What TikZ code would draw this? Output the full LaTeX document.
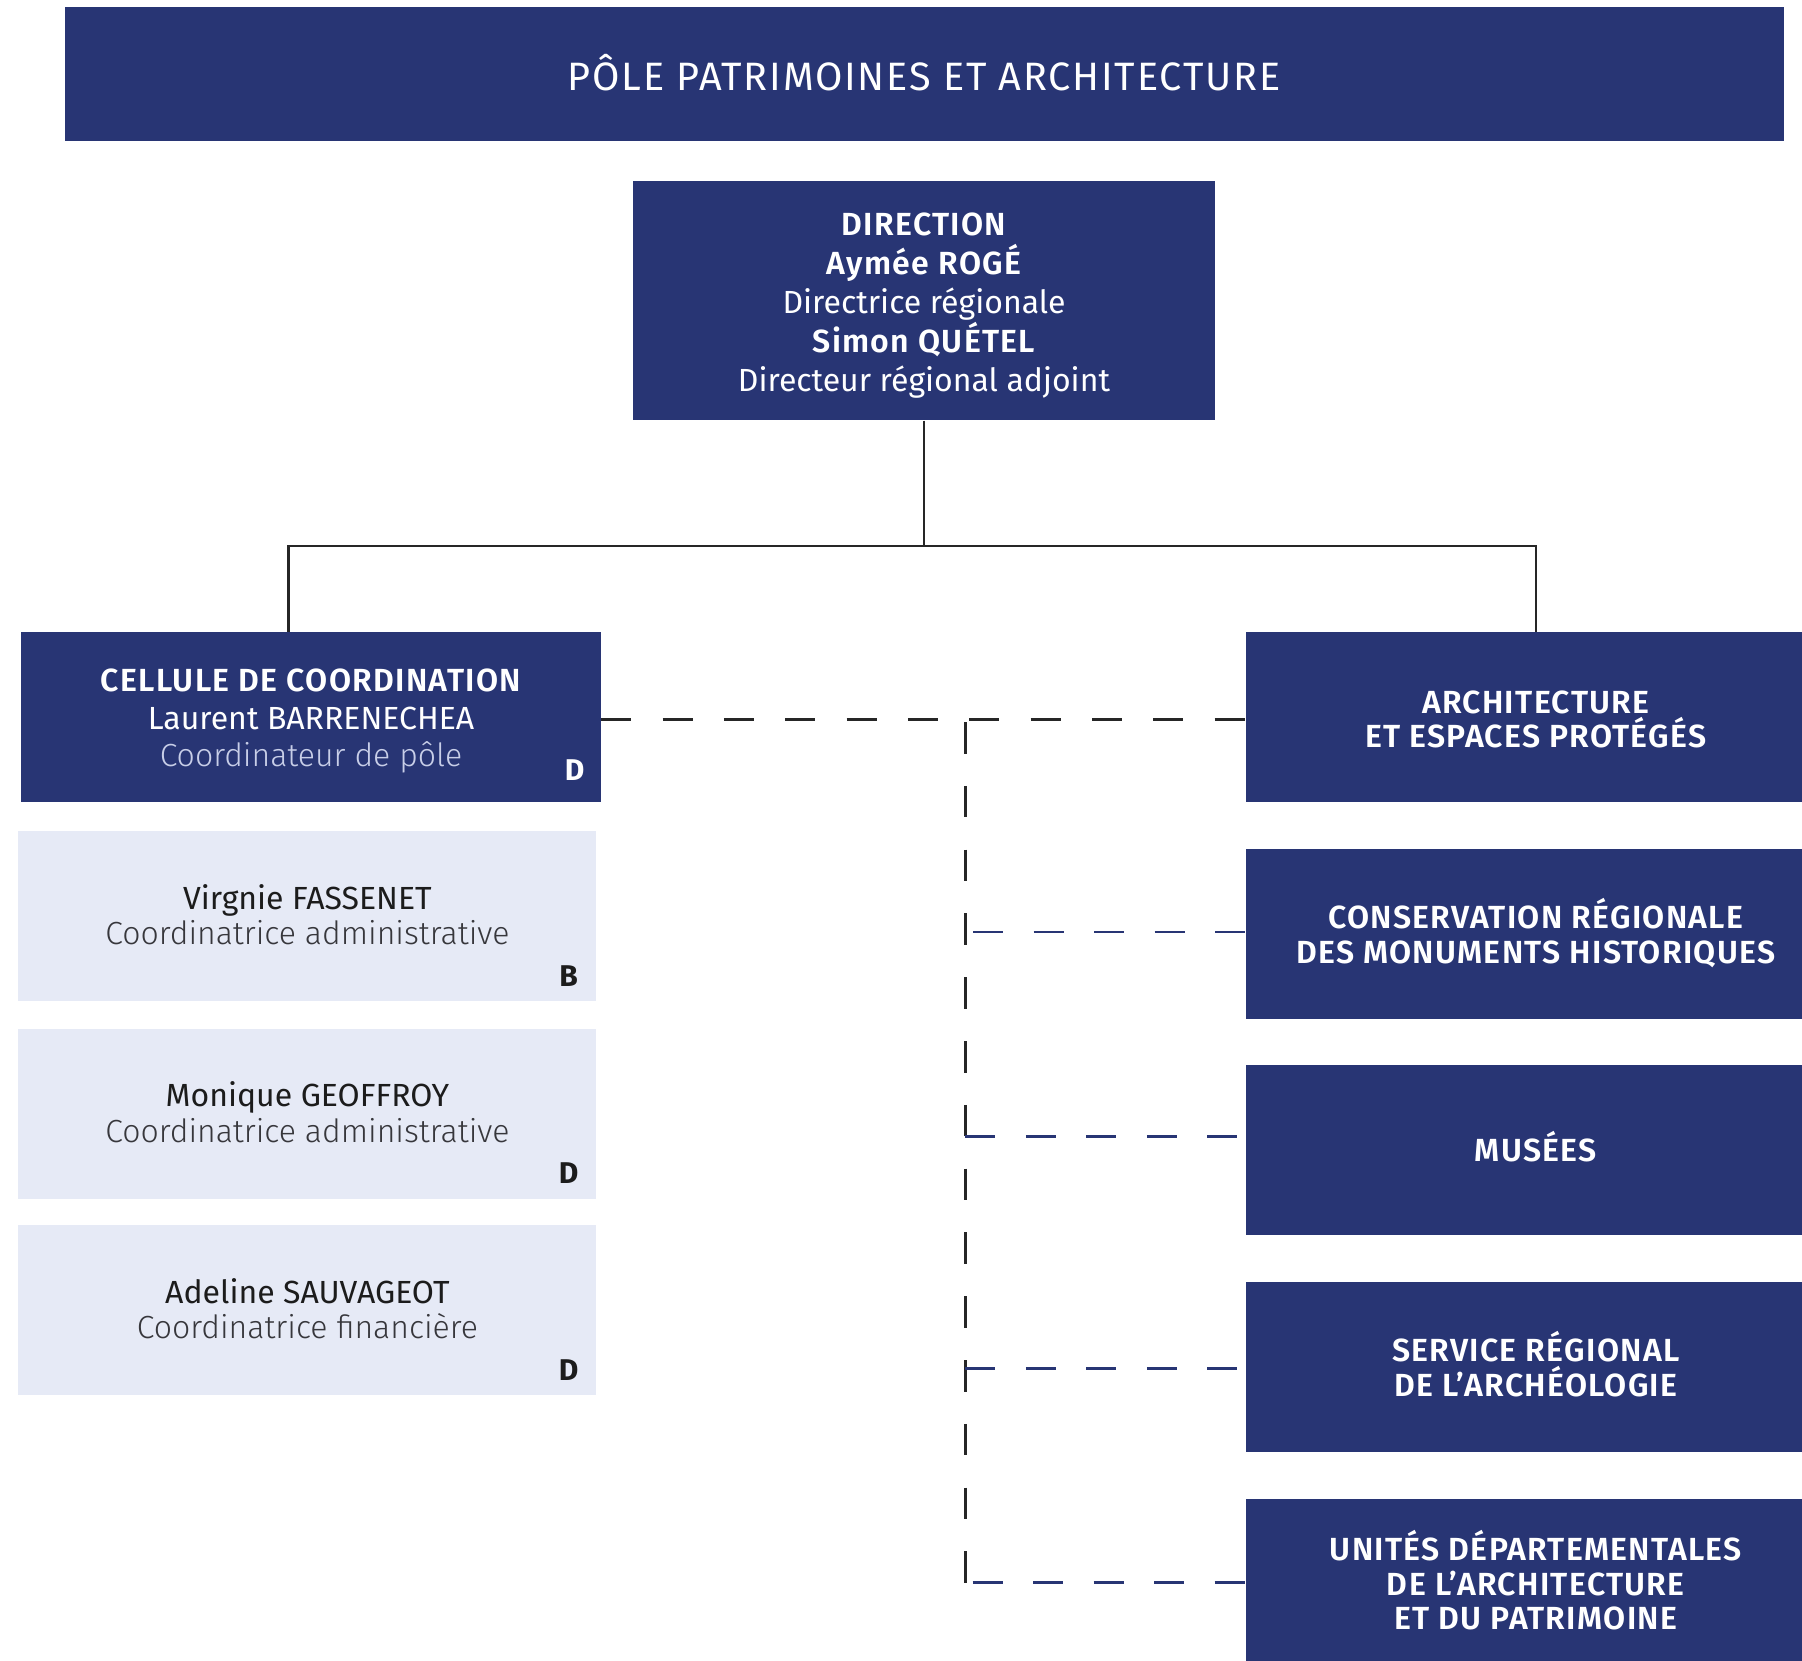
\documentclass[tikz,border=0pt]{standalone}
\usepackage{fontspec}
\setmainfont{Fira Sans}
\newfontfamily\lightfont{Fira Sans Light}
\newfontfamily\semifont{Fira Sans SemiBold}[LetterSpace=4]
\newfontfamily\headfont{Fira Sans}[LetterSpace=4.5]
\newfontfamily\gradefont{Fira Sans Bold}
\usetikzlibrary{calc}
\definecolor{navyc}{RGB}{40,53,116}
\definecolor{paleg}{RGB}{230,234,246}
\definecolor{rolelt}{RGB}{200,206,232}
\definecolor{darkt}{RGB}{28,28,28}
\definecolor{roledk}{RGB}{55,55,60}
\tikzset{
  navybox/.style={fill=navyc, text=white, inner sep=0pt, align=center, text depth=0pt},
  palebox/.style={fill=paleg, text=darkt, inner sep=0pt, align=center, text depth=0pt},
  solidline/.style={draw=black!85, line width=2.4pt},
  dashblack/.style={draw=black!85, line width=2.8pt, dash pattern=on 30pt off 31.35pt},
  dashvert/.style={draw=black!85, line width=2.8pt, dash pattern=on 31.5pt off 32.3pt},
  dashnavy/.style={draw=navyc, line width=2.8pt, dash pattern=on 30pt off 30.5pt},
  grade/.style={font=\gradefont\fontsize{30}{30}\selectfont, inner sep=0pt, anchor=center},
}
\begin{document}
\begin{tikzpicture}[x=1pt,y=-1pt]
\useasboundingbox (0,0) rectangle (1802,1661);
% banner
\node[navybox, minimum width=1719pt, minimum height=134.4pt, text height=31.9pt,
  font=\headfont\fontsize{39.6}{39.6}\selectfont] (banner) at (924,74.1) {PÔLE PATRIMOINES ET ARCHITECTURE};
% direction
\node[navybox, minimum width=581.5pt, minimum height=239pt, text height=180.3pt,
  font=\fontsize{32}{39}\selectfont] (dir) at (924,301)
  {{\semifont DIRECTION}\\{\semifont Aymée ROGÉ}\\Directrice régionale\\{\semifont Simon QUÉTEL}\\Directeur régional adjoint};
% cellule
\node[navybox, minimum width=580pt, minimum height=170pt, text height=99.6pt,
  font=\fontsize{32}{37.5}\selectfont] (cel) at (311,717)
  {{\semifont CELLULE DE COORDINATION}\\Laurent BARRENECHEA\\{\lightfont\color{rolelt}Coordinateur de pôle}};
\node[grade, text=white] (celG) at (574.7,770) {D};
% pale boxes
\node[palebox, minimum width=578pt, minimum height=170pt, text height=57.5pt,
  font=\fontsize{32}{35.5}\selectfont] (p1) at (307.4,916)
  {Virgnie FASSENET\\{\lightfont\color{roledk}Coordinatrice administrative}};
\node[grade, text=darkt] (p1G) at (568.7,976) {B};
\node[palebox, minimum width=578pt, minimum height=170pt, text height=57.5pt,
  font=\fontsize{32}{35.5}\selectfont] (p2) at (307.4,1113.6)
  {Monique GEOFFROY\\{\lightfont\color{roledk}Coordinatrice administrative}};
\node[grade, text=darkt] (p2G) at (568.7,1173.5) {D};
\node[palebox, minimum width=578pt, minimum height=170pt, text height=57.5pt,
  font=\fontsize{32}{35.5}\selectfont] (p3) at (307.4,1310)
  {Adeline SAUVAGEOT\\{\lightfont\color{roledk}Coordinatrice financière}};
\node[grade, text=darkt] (p3G) at (568.7,1370) {D};
% right boxes
\tikzset{rbox/.style={navybox, minimum width=580pt, minimum height=170pt, font=\semifont\fontsize{32}{34.5}\selectfont}}
\node[rbox, text height=61.1pt] (arch) at (1535.8,717) {ARCHITECTURE\\ET ESPACES PROTÉGÉS};
\node[rbox, text height=58.5pt] (crmh) at (1535.8,934) {CONSERVATION RÉGIONALE\\DES MONUMENTS HISTORIQUES};
\node[rbox, text height=22pt] (mus) at (1535.8,1150) {MUSÉES};
\node[rbox, text height=58pt] (sra) at (1535.8,1367) {SERVICE RÉGIONAL\\DE L’ARCHÉOLOGIE};
\node[rbox, text height=91.5pt] (udap) at (1535.8,1584) {UNITÉS DÉPARTEMENTALES\\DE L’ARCHITECTURE\\ET DU PATRIMOINE};
% solid connectors
\coordinate (jn) at (924,545.8);
\coordinate (celTop) at (288.5,632);
\draw[solidline] (dir.south) -- (jn);
\draw[solidline] (jn) -| (celTop);
\draw[solidline] (jn) -| (arch.north);
% dashed connectors
\coordinate (vTop) at (965.3,722);
\coordinate (vBot) at (965.3,1582.5);
\coordinate (bCrmh) at (973,932);
\coordinate (bMus) at (965.3,1136.5);
\coordinate (eMus) at (1237.7,1136.5);
\coordinate (bSra) at (965.3,1368.5);
\coordinate (eSra) at (1237.7,1368.5);
\coordinate (bUdap) at (972.7,1582.5);
\draw[dashblack] ($(cel.east)+(0,2.4)$) -- ($(arch.west)+(0,2.4)$);
\draw[dashvert] (vTop) -- (vBot);
\draw[dashnavy] (bCrmh) -- (bCrmh -| crmh.west);
\draw[dashnavy] (bMus) -- (eMus);
\draw[dashnavy] (bSra) -- (eSra);
\draw[dashnavy] (bUdap) -- (bUdap -| udap.west);
\end{tikzpicture}
\end{document}
